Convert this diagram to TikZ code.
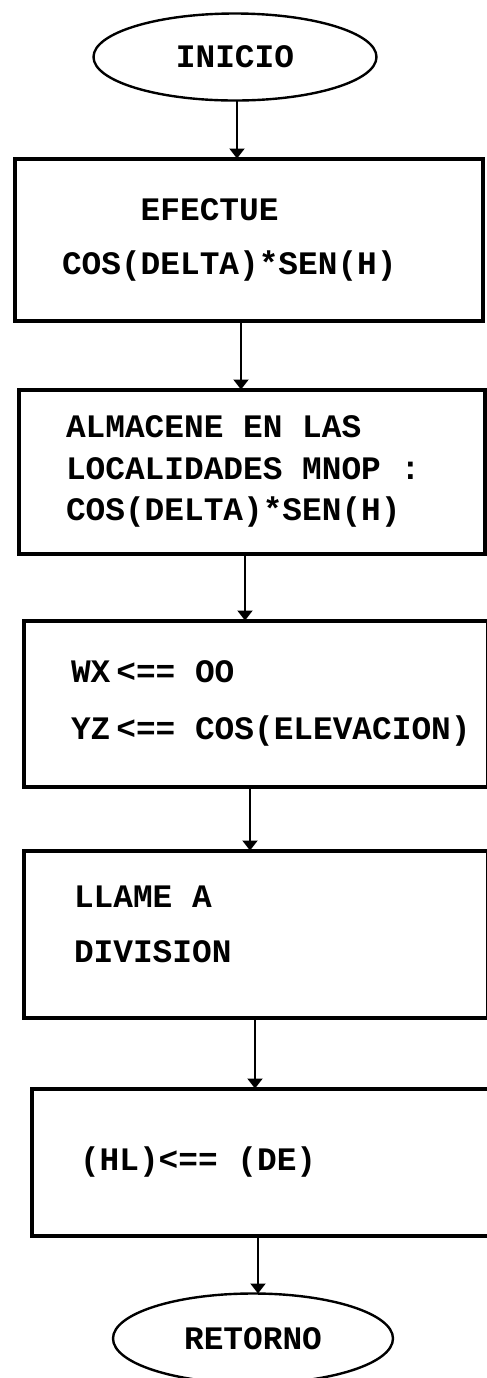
\documentclass[tikz,border=0pt]{standalone}
\usepackage{fontspec}
\newfontfamily\flowfont{Liberation Mono}
\newcommand{\flowtext}[1]{\flowfont\bfseries\fontsize{16.4pt}{#1}\selectfont}
\usetikzlibrary{positioning,shapes.geometric,arrows.meta}

\begin{document}
\begin{tikzpicture}[
    every node/.style={outer sep=0pt},
    terminal/.style={draw,ellipse,line width=1.2pt,inner sep=0pt,font={\flowtext{20pt}}},
    stepbox/.style={draw,rectangle,line width=2pt,align=left,inner xsep=23.5pt,inner ysep=0pt,font={\flowtext{#1}},
      execute at begin node={\spaceskip 0.6em\xspaceskip 0.6em\relax}},
  ]
    \useasboundingbox (0,0) rectangle (243.5pt,-689pt);

    \node (1) [terminal,minimum width=141.5pt,minimum height=43.5pt] at (117.5pt,-28.5pt) {INICIO};
    \node (2) [stepbox=27pt,text width=187pt,minimum height=81pt,below = 29pt,at=(1.south), xshift=7pt] {\hphantom{XXXX}EFECTUE\\COS(DELTA)*SEN(H)};
    \node (3) [stepbox=20.75pt,text width=186pt,minimum height=82pt,below = 34.5pt,at=(2.south), xshift=1.5pt] {ALMACENE EN LAS\\LOCALIDADES MNOP :\\COS(DELTA)*SEN(H)};
    \node (4) [stepbox=28.5pt,text width=185pt,minimum height=83pt,below = 33.5pt,at=(3.south), xshift=2pt] {WX\hspace{3pt}<== OO\\\rlap{YZ\hspace{3pt}<== COS(ELEVACION)}};
    \node (5) [stepbox=27.5pt,inner xsep=25pt,text width=182pt,minimum height=83.5pt,below = 32pt,at=(4.south)] {LLAME A\\DIVISION\rule[-10pt]{0pt}{10pt}};
    \node (6) [stepbox=20pt,inner xsep=24pt,text width=181pt,minimum height=73.5pt,below = 35.5pt,at=(5.south), xshift=2.5pt] {(HL)<== (DE)};
    \node (7) [terminal,minimum width=140pt,minimum height=45pt,below = 29pt,at=(6.south), xshift=-4pt] {RETORNO};

    \path[line width=1pt,every edge/.style={draw,-{Triangle[width=7.5pt,length=5pt]}}]
    ([xshift=1pt]1.south) edge ([xshift=1pt]1.south |- 2.north)
    ([xshift=-4pt]2.south) edge ([xshift=-4pt]2.south |- 3.north)
    ([xshift=-3.5pt]3.south) edge ([xshift=-3.5pt]3.south |- 4.north)
    ([xshift=-3pt]4.south) edge ([xshift=-3pt]4.south |- 5.north)
    ([xshift=-0.5pt]5.south) edge ([xshift=-0.5pt]5.south |- 6.north)
    ([xshift=-1.5pt]6.south) edge ([xshift=-1.5pt]6.south |- 7.north)
    ;
\end{tikzpicture}
\end{document}
